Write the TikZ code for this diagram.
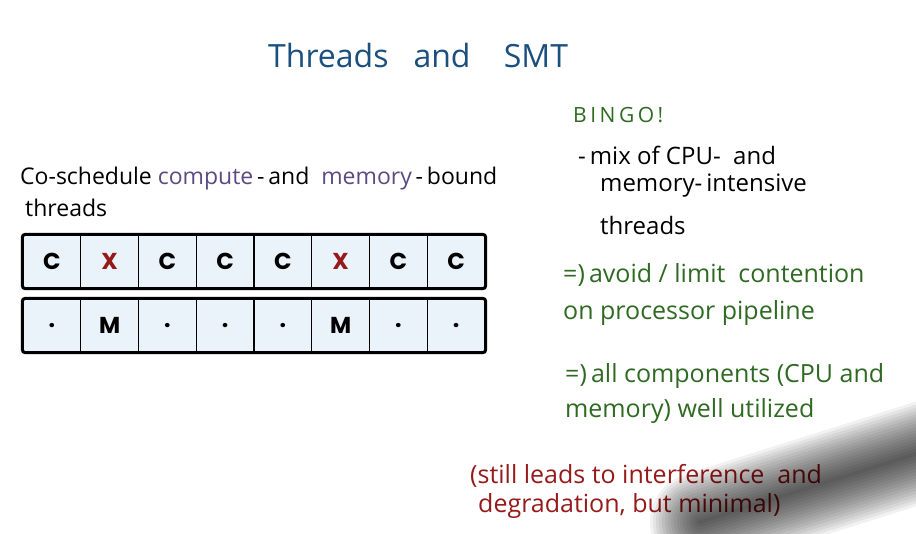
\documentclass[tikz,border=0pt]{standalone}
\usepackage{fontspec}
\setmainfont{Open Sans}
\newfontfamily\cellfont{Poppins}
\definecolor{titleblue}{HTML}{1B4F7E}
\definecolor{purp}{HTML}{5C4A82}
\definecolor{grn}{HTML}{2F6A22}
\definecolor{redd}{HTML}{961A1A}
\definecolor{cellfill}{HTML}{EAF3FA}
\begin{document}
\begin{tikzpicture}[x=1pt,y=-1pt,
  txt/.style={anchor=base west,inner sep=0pt},
  cell/.style={draw=black,line width=1.4pt,fill=cellfill,minimum width=57.75pt,minimum height=53pt,inner sep=0pt,font=\cellfont\bfseries\fontsize{23}{23}\selectfont},
  rowbox/.style={draw=black,line width=3pt,rounded corners=3pt}]
\useasboundingbox (0,0) rectangle (916,534);
\fill[white] (0,0) rectangle (916,534);
% title
\node[txt,text=titleblue,font=\fontsize{32}{32}\selectfont] (title) at (268,68) {Threads\ \ \ and\ \ \ \ SMT};
% left text
\node[txt,font=\fontsize{23}{23}\selectfont] (cos) at (20,185) {Co-schedule \textcolor{purp}{compute}\,-\,and \ \textcolor{purp}{memory}\,-\,bound};
\node[txt,font=\fontsize{23}{23}\selectfont] (thr) at (25,217) {threads};
% cells
\foreach \i/\t/\c in {1/C/black,2/X/redd,3/C/black,4/C/black,5/C/black,6/X/redd,7/C/black,8/C/black}{
  \node[cell,text=\c] (c\i) at ({23+57.75*(\i-0.5)},261.5) {\t};
}
\foreach \i/\t in {1/.,2/M,3/.,4/.,5/.,6/M,7/.,8/.}{
  \node[cell] (m\i) at ({23+57.75*(\i-0.5)},325.5) {\t};
}
\draw[rowbox] (c1.north west) rectangle (c8.south east);
\draw[rowbox] (m1.north west) rectangle (m8.south east);
% right text
\node[txt,text=grn,font=\fontsize{21}{21}\selectfont] (bingo) at (573,123) {B\,I\,N\,G\,O\,!};
\node[txt,font=\fontsize{24}{24}\selectfont] (mix1) at (578,165) {-\,mix of\ CPU-\ \ and};
\node[txt,font=\fontsize{24}{24}\selectfont] (mix2) at (600,192) {memory-\,intensive};
\node[txt,font=\fontsize{24}{24}\selectfont] (mix3) at (600,235) {threads};
\node[txt,text=grn,font=\fontsize{25}{25}\selectfont] (g1) at (563,283) {=)\,avoid / limit\ \ contention};
\node[txt,text=grn,font=\fontsize{25}{25}\selectfont] (g2) at (563,320) {on processor pipeline};
\node[txt,text=grn,font=\fontsize{25}{25}\selectfont] (g3) at (565,383) {=)\,all components\ (CPU and};
\node[txt,text=grn,font=\fontsize{25}{25}\selectfont] (g4) at (565,418) {memory)\ well\ utilized};
\node[txt,text=redd,font=\fontsize{25}{25}\selectfont] (r1) at (470,483) {(still leads to interference\ \ and};
\node[txt,text=redd,font=\fontsize{25}{25}\selectfont] (r2) at (478,512) {degradation, but minimal)};
% hand shadow
\foreach \w in {100,94,...,4}{
  \draw[black,line width=\w pt,line cap=round,opacity=0.055] (700,522) -- (935,448);
}
\end{tikzpicture}
\end{document}
